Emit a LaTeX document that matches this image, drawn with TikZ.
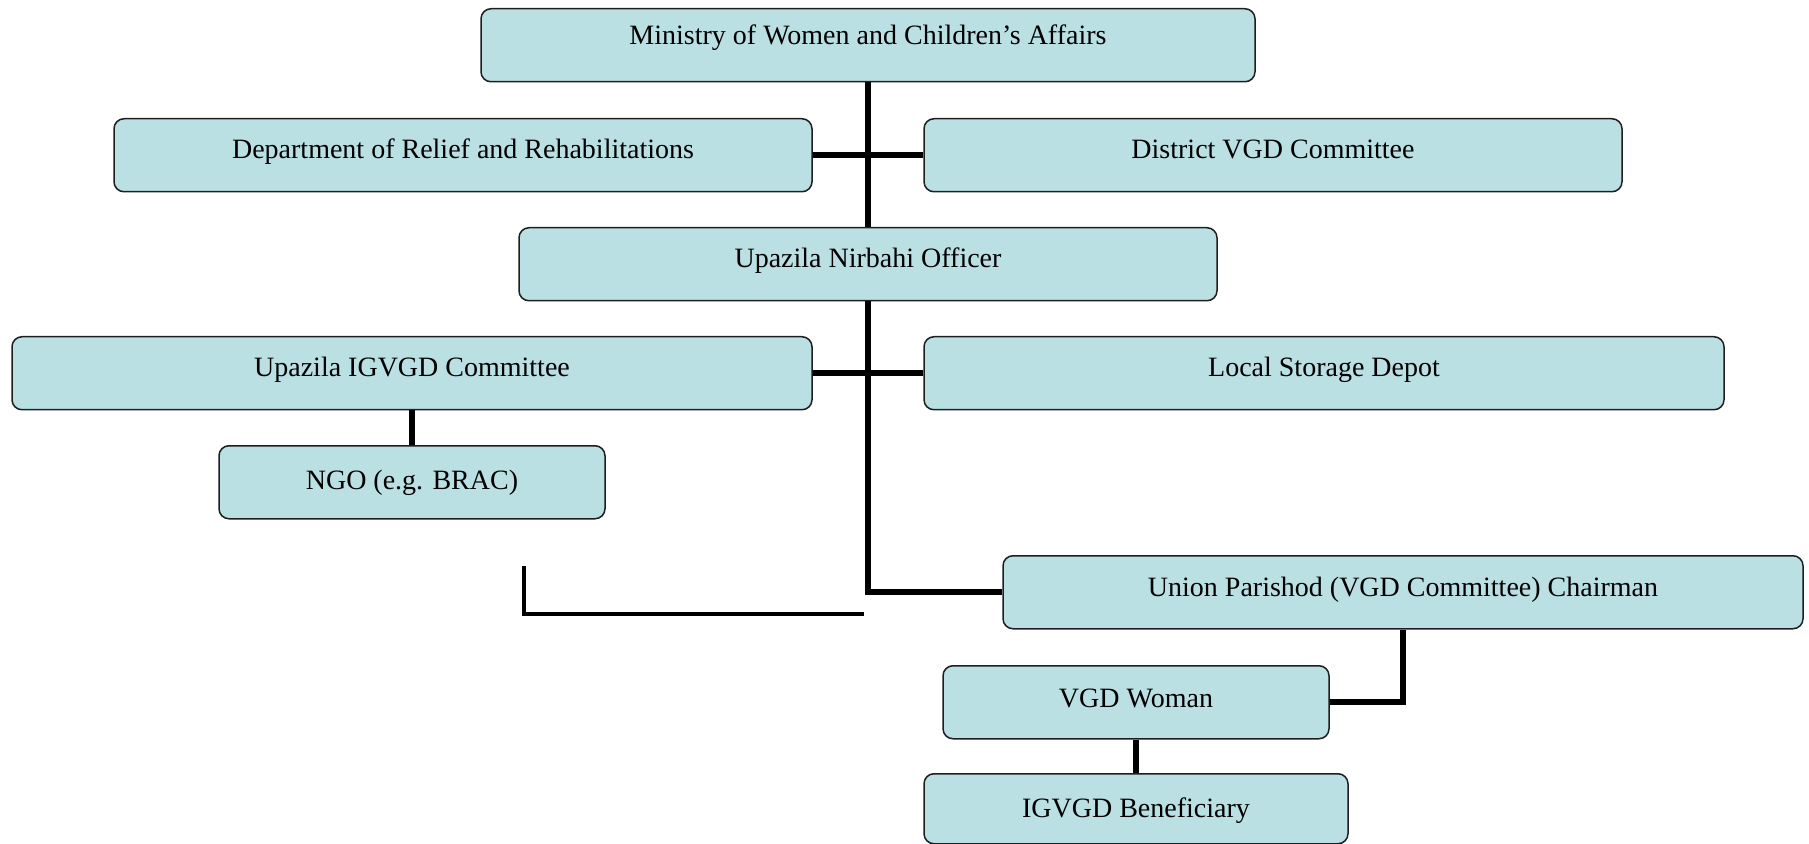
\documentclass[tikz,border=0pt]{standalone}
\usepackage{fontspec}
\setmainfont{Liberation Serif}
\definecolor{boxfill}{RGB}{186,224,228}
\definecolor{boxline}{RGB}{30,30,30}
\begin{document}
\begin{tikzpicture}[x=0.5pt,y=-0.5pt,
  orgbox/.style={draw=boxline, line width=0.75pt, fill=boxfill,
    rounded corners=5pt, anchor=north, inner xsep=0pt, inner ysep=0pt,
    text height=#1pt, text depth={36.5pt-#1pt},
    font=\fontsize{14}{16}\selectfont},
  orgbox/.default=20,
  link/.style={line width=3pt, black},
  thinlink/.style={line width=1.75pt, black}]
\useasboundingbox (0,0) rectangle (1809,844);

% organisational units
\node[orgbox=18,   minimum width=387pt] (mowca)  at (868,8)    {Ministry of Women and Children’s Affairs};
\node[orgbox,      minimum width=349pt] (drr)    at (463,118)  {Department of Relief and Rehabilitations};
\node[orgbox,      minimum width=349pt] (dvgd)   at (1273,118) {District VGD Committee};
\node[orgbox,      minimum width=349pt] (uno)    at (868,227)  {Upazila Nirbahi Officer};
\node[orgbox,      minimum width=400pt] (uigvgd) at (412,336)  {Upazila IGVGD Committee};
\node[orgbox,      minimum width=400pt] (lsd)    at (1324,336) {Local Storage Depot};
\node[orgbox=22,   minimum width=193pt] (ngo)    at (412,445)  {NGO (e.g. BRAC)};
\node[orgbox=20.5, minimum width=400pt] (up)     at (1403,555) {Union Parishod (VGD Committee) Chairman};
\node[orgbox=21,   minimum width=193pt] (vgdw)   at (1136,665) {VGD Woman};
\node[orgbox=22,   minimum width=212pt, text depth=13pt] (ben) at (1136,773) {IGVGD Beneficiary};

% free-standing bracket
\coordinate (lA) at (524,566);
\coordinate (lB) at (864,614);

% connectors
\draw[link] (mowca.south) -- (uno.north);
\draw[link] (drr.east) -- (dvgd.west);
\draw[link] (uno.south) |- (up.west);
\draw[link] (uigvgd.east) -- (lsd.west);
\draw[link] (uigvgd.south) -- (ngo.north);
\draw[link] (up.south) |- (vgdw.east);
\draw[link] (vgdw.south) -- (ben.north);
\draw[thinlink] (lA) |- (lB);
\end{tikzpicture}
\end{document}
